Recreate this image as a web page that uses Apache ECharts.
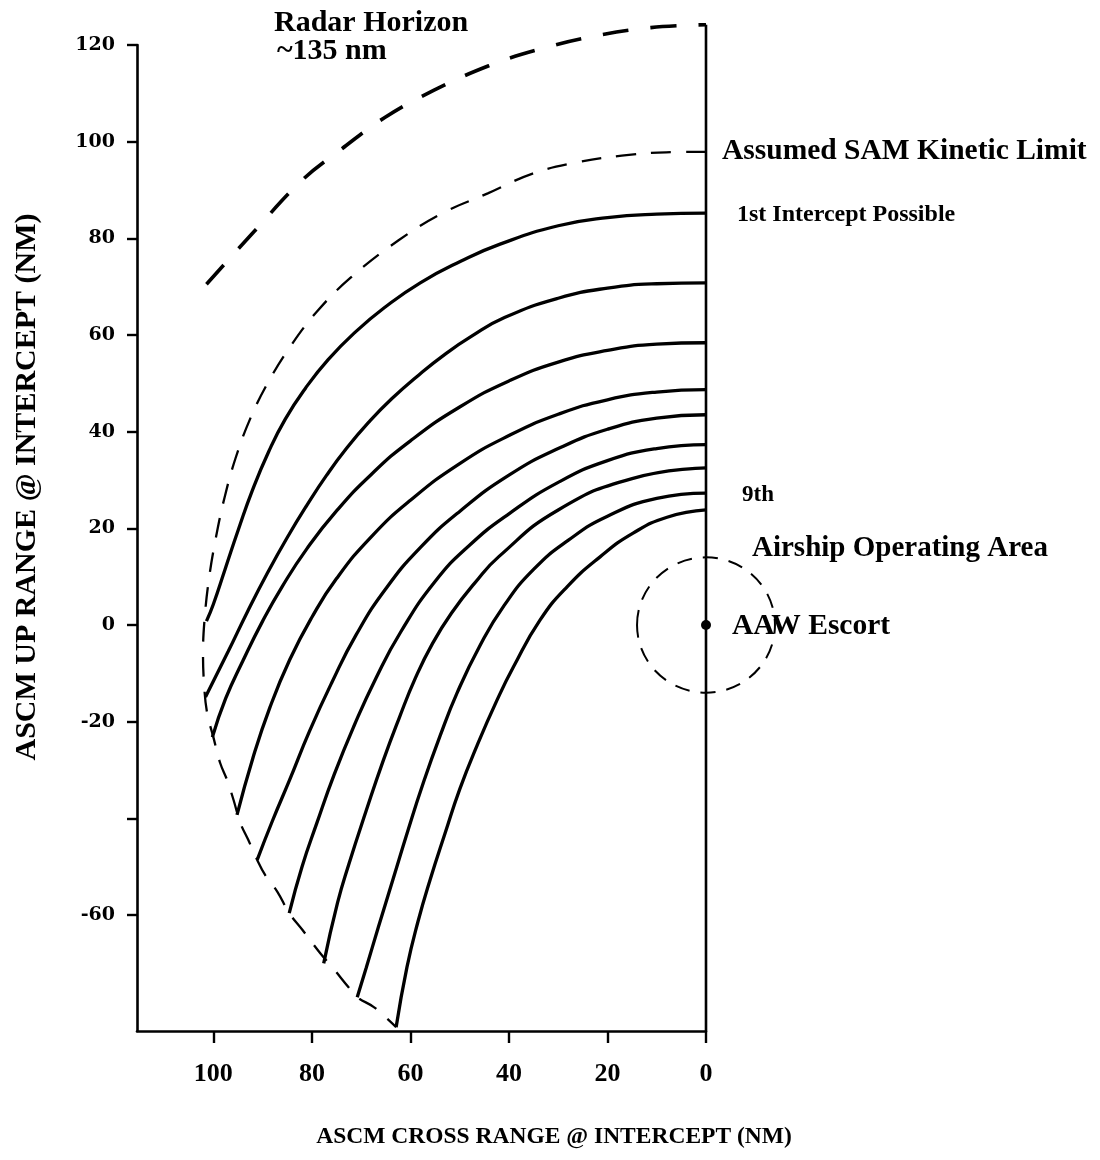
<!DOCTYPE html>
<html>
<head>
<meta charset="utf-8">
<script src="https://cdn.jsdelivr.net/npm/echarts@6/dist/echarts.min.js"></script>
<style>
html,body{margin:0;padding:0;background:#fff;}
#chart{width:1100px;height:1160px;}
</style>
</head>
<body>
<div id="chart"></div>
<script>
// ---- data ----
const xTickValues = [0, 20, 40, 60, 80, 100];
const yTickValues = [120, 100, 80, 60, 40, 20, 0, -20, -40, -60];
const yLabelValues = [120, 100, 80, 60, 40, 20, 0, -20, -60];

const radarHorizon = [[101.4,70.5],[92.1,81.0],[81.9,92.1],[74.2,98.3],[65.2,105.0],[55.3,110.6],[44.1,115.7],[34.3,119.0],[22.4,121.9],[11.2,123.6],[0,124.2]];

const samLimit = [[0,97.9],[8.1,97.8],[17.1,97.1],[26.2,95.7],[35.2,93.4],[44.3,89.3],[53.3,85.3],[62.4,79.6],[72.2,71.8],[79.1,64.7],[84.6,57.3],[89,50],[92.6,42.5],[95.5,34.5],[97.7,26.5],[99.5,18],[100.9,9.5],[101.8,1],[102.1,-6],[101.9,-12],[101.3,-18],[100.0,-23.2],[98.6,-28.6],[97.2,-32.1],[95.9,-36.2],[94.5,-41.0],[92.9,-44.5],[91.1,-48.6],[89.5,-51.7],[87.0,-55.2],[84.6,-59.6],[81.9,-63.1],[78.3,-67.9],[75.7,-71.0],[72.6,-74.9],[70.8,-77.0],[67.5,-79.0],[65.1,-81.1],[62.9,-83.2]];

const intercept1 = [[0,85.2],[10,85.0],[20,84.3],[30,82.6],[41.8,78.8],[49.9,75.2],[58.0,70.8],[65.1,65.8],[71.2,60.6],[76.7,54.9],[81.3,49.0],[85.4,42.6],[88.8,35.8],[92.1,27.8],[94.9,19.8],[97.6,11.6],[100.0,4.3],[101.4,0.8]];
const intercept2 = [[0,70.8],[10,70.6],[20,69.7],[30,67.6],[40.9,63.6],[47.8,59.6],[53,56],[58.1,51.9],[63.8,46.8],[68.5,41.9],[73,36.5],[77,31],[81,24.8],[85,18.1],[89,10.8],[93,2.9],[97,-5.5],[101.6,-14.9]];
const intercept3 = [[0,58.4],[10,58.1],[20,56.8],[30,54.4],[40,50.5],[50,45.1],[60,38.1],[68,31.1],[75,23.6],[81,15.8],[86,8.0],[90,0.8],[94,-7.4],[97.5,-15.2],[100.2,-23.2]];
const intercept4 = [[0,48.7],[10,48.2],[20,46.6],[30,43.6],[40,39.2],[50,33.4],[60,25.8],[68,18.2],[75,9.6],[80,1.6],[84.5,-7.2],[88.5,-17.0],[92,-27.6],[95.2,-39.3]];
const intercept5 = [[0,43.5],[10,42.8],[20,40.5],[30,36.5],[40,31],[50,23.5],[58,16],[65,7.5],[71,-2],[76,-12],[80.5,-22],[84.5,-32],[88,-40.5],[91.1,-48.6]];
const intercept6 = [[0,37.3],[10,36.5],[20,34],[30,29.5],[40,23],[48,16.5],[55,9],[62,-1.5],[67,-11],[71.5,-21],[75.5,-31],[79,-41],[82,-50],[84.6,-59.6]];
const intercept7 = [[0,32.5],[15,30.3],[30,23.8],[42,14.2],[47,8.6],[51.5,2.7],[55.5,-3.8],[59,-11],[62.3,-19.3],[65.5,-28],[69,-38.5],[72.5,-49.5],[74.8,-57.5],[77.6,-70]];
const intercept8 = [[0,27.3],[10,26.2],[20,22.5],[28,17.5],[35,11.5],[41,4],[46,-4.5],[50.5,-14],[54,-23],[57.5,-33],[60.5,-42.5],[63.5,-52.5],[66.5,-62.5],[69,-71],[70.8,-77]];
const intercept9 = [[0,23.8],[7.9,22.3],[14.8,19],[21.5,14.1],[28.2,7.9],[33.7,1],[39.1,-8.7],[42.4,-15.5],[46.5,-25],[50,-34],[53,-43.2],[56,-52.7],[58.5,-61.5],[60.7,-70.8],[62.9,-83.2]];

const escortLine = [[0,-84],[0,124.2]];
const escortPoint = [[0,0]];
const airshipArea = [[0,0,14]]; // centre x, centre y, radius (nm)

// ---- chart ----
const serif = "'Liberation Serif','Times New Roman',serif";
const chart = echarts.init(document.getElementById('chart'), null, {renderer:'canvas'});

const curves = [intercept1,intercept2,intercept3,intercept4,intercept5,intercept6,intercept7,intercept8,intercept9];
const series = curves.map((d,i)=>({
  type:'line', data:d, smooth:0.5, symbol:'none', clip:false,
  lineStyle:{color:'#000', width:3.3}, z:3, silent:true, name:'curve'+(i+1)
}));

series.push({type:'line', data:radarHorizon, smooth:0.4, symbol:'none', clip:false,
  lineStyle:{color:'#000', width:3.6, type:[26,22]}, silent:true});
series.push({type:'line', data:samLimit, smooth:0.4, symbol:'none', clip:false,
  lineStyle:{color:'#000', width:2.3, type:[20,15]}, silent:true});
series.push({type:'line', data:escortLine, symbol:'none', clip:false,
  lineStyle:{color:'#000', width:2.6}, silent:true});
series.push({type:'scatter', data:escortPoint, symbol:'circle', symbolSize:10,
  itemStyle:{color:'#000', opacity:1}, silent:true, z:5});
series.push({type:'custom', data:airshipArea, clip:false, silent:true,
  renderItem:function(params, api){
    const c = api.coord([api.value(0), api.value(1)]);
    const s = api.size([api.value(2), api.value(2)]);
    return {type:'ellipse', shape:{cx:c[0], cy:c[1], rx:s[0], ry:s[1]},
      style:{fill:null, stroke:'#000', lineWidth:2, lineDash:[15,11]}};
  }});

const option = {
  backgroundColor:'#fff',
  animation:false,
  grid:{left:137, right:394, top:45, bottom:129, containLabel:false},
  xAxis:{
    type:'value', inverse:true, min:0, max:115.5,
    axisLine:{show:true, onZero:false, lineStyle:{color:'#000', width:2.6}},
    axisTick:{show:true, length:12, lineStyle:{color:'#000', width:2.4}, customValues:xTickValues},
    axisLabel:{show:true, margin:30, customValues:xTickValues, color:'#000',
      fontFamily:serif, fontWeight:'bold', fontSize:26},
    splitLine:{show:false}
  },
  yAxis:{
    type:'value', min:-84, max:120,
    axisLine:{show:true, onZero:false, lineStyle:{color:'#000', width:2.6}},
    axisTick:{show:true, length:10, lineStyle:{color:'#000', width:2.4}, customValues:yTickValues},
    axisLabel:{show:true, margin:22, customValues:yLabelValues, color:'#000',
      fontFamily:"'DejaVu Serif',serif", fontWeight:'bold', fontSize:19},
    splitLine:{show:false}
  },
  graphic:[
    {type:'text', left:274, top:8, style:{text:'Radar Horizon', font:'bold 30px '+serif, fill:'#000'}},
    {type:'text', left:277, top:36, style:{text:'~135 nm', font:'bold 30px '+serif, fill:'#000'}},
    {type:'text', left:722, top:136, style:{text:'Assumed SAM Kinetic Limit', font:'bold 29.5px '+serif, fill:'#000'}},
    {type:'text', left:737, top:203, style:{text:'1st Intercept Possible', font:'bold 24px '+serif, fill:'#000'}},
    {type:'text', left:742, top:484, style:{text:'9th', font:'bold 23px '+serif, fill:'#000'}},
    {type:'text', left:752, top:534, style:{text:'Airship Operating Area', font:'bold 29px '+serif, fill:'#000'}},
    {type:'text', left:732, top:611, style:{text:'AAW Escort', font:'bold 29.5px '+serif, fill:'#000'}},
    {type:'text', x:554, y:1137, style:{text:'ASCM CROSS RANGE @ INTERCEPT (NM)', font:'bold 23.5px '+serif, fill:'#000', textAlign:'center', textVerticalAlign:'middle'}},
    {type:'text', x:27, y:487, rotation:Math.PI/2, style:{text:'ASCM UP RANGE @ INTERCEPT (NM)', font:'bold 30px '+serif, fill:'#000', textAlign:'center', textVerticalAlign:'middle'}}
  ],
  series:series
};
chart.setOption(option);
</script>
</body>
</html>
